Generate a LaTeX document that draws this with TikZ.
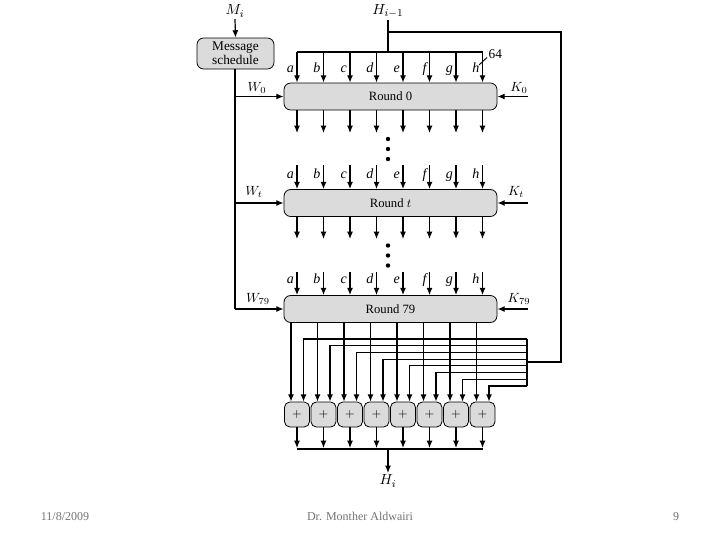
\documentclass[tikz,border=0pt]{standalone}
\usepackage{fontspec}
\setmainfont{Liberation Serif}
\usetikzlibrary{arrows.meta,calc}
\begin{document}
\begin{tikzpicture}[x=0.75pt,y=-0.75pt,
  line width=0.9pt,
  arr/.style={-{Latex[length=5.5pt,width=4.5pt]}},
  boxfill/.style={draw, line width=0.6pt, fill=black!14, rounded corners=5pt, inner sep=0pt},
  roundbox/.style={boxfill, minimum width=159.75pt, minimum height=20.25pt, font=\fontsize{9.5}{11}\selectfont},
  adder/.style={boxfill, rounded corners=4pt, minimum width=18.75pt, minimum height=18.75pt, font=\fontsize{9}{10}\selectfont},
  lab/.style={font=\fontsize{10.5}{12}\selectfont\itshape, inner sep=0pt, anchor=base east},
  mlab/.style={font=\fontsize{10}{12}\selectfont, inner sep=0pt},
  foot/.style={font=\fontsize{9}{11}\selectfont, text=black!55, inner sep=0pt, anchor=base}]
\useasboundingbox (0,0) rectangle (720,540);

% column coordinates
\foreach \n/\x in {a/297,b/323.5,c/350,d/376.5,e/403,f/429.5,g/456,h/482.5}{
  \coordinate (c\n) at (\x,0);
  \coordinate (l\n) at (\x-6,0);
  \coordinate (r\n) at (\x+6.5,0);
}

% message schedule
\node[font=\fontsize{11}{12}\selectfont, inner sep=1pt] (mi) at (235,11) {$M_i$};
\node[boxfill, minimum width=57.75pt, minimum height=23.25pt, align=center, font=\fontsize{10}{10.5}\selectfont] (ms) at (235.5,53.5) {Message\\schedule};
\draw[arr] (mi.south) -- (ms.north);

% rounds
\node[roundbox] (r0) at (390.5,96.5) {Round 0};
\node[roundbox] (rt) at (390.5,203) {Round $t$};
\node[roundbox] (r79) at (390.5,309) {Round 79};

% W inputs
\coordinate (wtop) at (235,69);
\coordinate (wcorner) at (235,309);
\draw (ms.south -| wtop) -- (wcorner);
\draw[arr] (wcorner) -- (r79.west);
\draw[arr] (r0.west -| wtop) -- (r0.west);
\draw[arr] (rt.west -| wtop) -- (rt.west);
\node[mlab] (w0) at (257,88) {$W_0$};
\node[mlab] (wt) at (254,192) {$W_t$};
\node[mlab] (w79) at (258,299) {$W_{79}$};

% K inputs
\coordinate (k0s) at (528,96.5);
\coordinate (kts) at (528,203);
\coordinate (k79s) at (528,309);
\draw[arr] (k0s) -- (r0.east);
\draw[arr] (kts) -- (rt.east);
\draw[arr] (k79s) -- (r79.east);
\node[mlab] (k0) at (519,88) {$K_0$};
\node[mlab] (kt) at (516,192) {$K_t$};
\node[mlab] (k79) at (519,299) {$K_{79}$};

% H_{i-1} and top bus
\node[font=\fontsize{11}{12}\selectfont, inner sep=1pt] (hin) at (388,11) {$H_{i-1}$};
\coordinate (bus0) at (388,52);
\coordinate (fb) at (388,32);
\draw (hin.south) -- (bus0);
\draw (ca |- bus0) -- (ch |- bus0);
\foreach \n in {a,b,c,d,e,f,g,h}{
  \draw[arr] (c\n |- bus0) -- (c\n |- r0.north);
  \node[lab] (la0\n) at ($(c\n |- 0,72.5)+(-2.5,0)$) {\n};
  \draw[arr] (c\n |- r0.south) -- (c\n |- 0,133);
  \draw[arr] (c\n |- 0,165) -- (c\n |- rt.north);
  \node[lab] (lat\n) at ($(c\n |- 0,178.5)+(-2.5,0)$) {\n};
  \draw[arr] (c\n |- rt.south) -- (c\n |- 0,239);
  \draw[arr] (c\n |- 0,272) -- (c\n |- r79.north);
  \node[lab] (la79\n) at ($(c\n |- 0,283)+(-2.5,0)$) {\n};
}
% 64 marker
\coordinate (s1) at (479,65);
\coordinate (s2) at (487,57.5);
\draw[line width=0.7pt] (s1) -- (s2);
\node[font=\fontsize{10}{11}\selectfont, inner sep=0pt, anchor=west] (n64) at (488,54) {64};

% dots
\foreach \y in {139,149,159,245.5,255.5,265.5}{
  \fill (388,\y) circle (2.2);
}

% adders
\foreach \n in {a,b,c,d,e,f,g,h}{
  \node[adder] (add\n) at (c\n |- 0,414.5) {$+$};
}

% round 79 outputs to adders
\foreach \n in {a,b,c,d,e,f,g,h}{
  \draw[arr] (l\n |- r79.south) -- (l\n |- add\n.north);
}

% feedback path
\coordinate (fbr) at (561,32);
\coordinate (fbd) at (561,362);
\coordinate (fbt) at (527,339);
\coordinate (fbb) at (527,386);
\draw (fb) -- (fbr) -- (fbd) -- (fbd -| fbt);
\draw (fbt) -- (fbb);
\foreach \n/\y in {a/339,b/345.7,c/352.4,d/359.1,e/365.8,f/372.5,g/379.2,h/386}{
  \draw[arr] (fbt |- 0,\y) -- (r\n |- 0,\y) -- (r\n |- add\n.north);
}

% outputs
\coordinate (obus) at (388,449);
\foreach \n in {a,b,c,d,e,f,g,h}{
  \draw[arr] (add\n.south) -- (c\n |- 0,448);
}
\draw (ca |- obus) -- (ch |- obus);
\node[font=\fontsize{11}{12}\selectfont, inner sep=1pt] (hout) at (388,481) {$H_i$};
\draw[arr] (obus) -- (hout.north);

% footer
\node[foot] (fdate) at (65,520) {11/8/2009};
\node[foot] (fauth) at (360,520) {Dr. Monther Aldwairi};
\node[foot] (fpage) at (676,520) {9};
\end{tikzpicture}
\end{document}
